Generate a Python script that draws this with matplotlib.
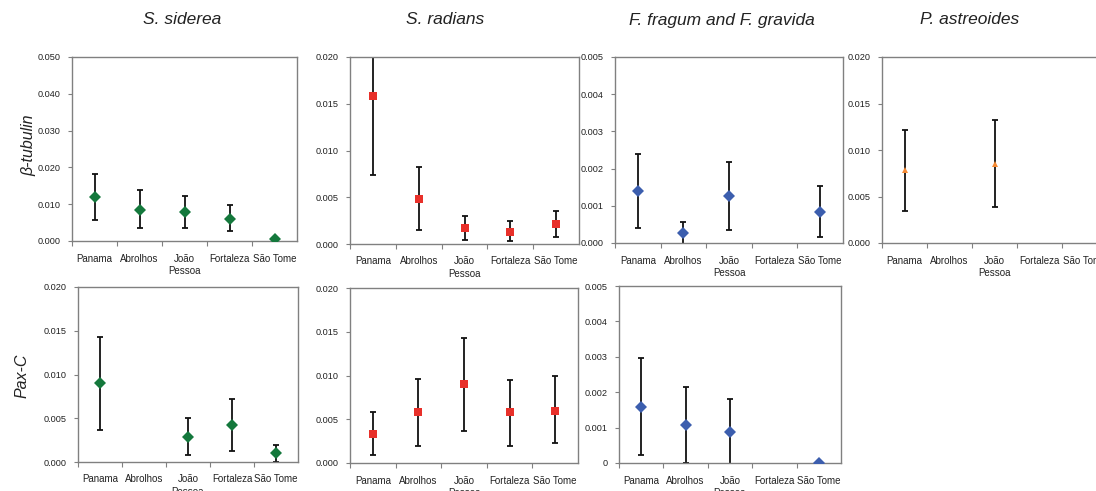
import numpy as np
import matplotlib
matplotlib.use("Agg")
import matplotlib.pyplot as plt
from matplotlib import font_manager

# pick a narrow Arial-like face if the box has one
_names = {f.name for f in font_manager.fontManager.ttflist}
FONT = "Liberation Sans Narrow" if "Liberation Sans Narrow" in _names else "Liberation Sans"
plt.rcParams["font.family"] = [FONT, "DejaVu Sans"]

sites = ["Panama", "Abrolhos", "João\nPessoa", "Fortaleza", "São Tome"]
species = ["S. siderea", "S. radians", "F. fragum and F. gravida", "P. astreoides"]
genes = ["β-tubulin", "Pax-C"]

# beta-tubulin: mean, lower and upper end of the error bar
sid_beta = [0.0120, 0.0085, 0.0078, 0.0061, 0.0005]
sid_beta_lo = [0.0056, 0.0035, 0.0036, 0.0027, np.nan]
sid_beta_hi = [0.0182, 0.0138, 0.0123, 0.0099, np.nan]

rad_beta = [0.0158, 0.0048, 0.0017, 0.0013, 0.0021]
rad_beta_lo = [0.0074, 0.0015, 0.0004, 0.0003, 0.0007]
rad_beta_hi = [0.0242, 0.0082, 0.0030, 0.0025, 0.0035]

fra_beta = [0.00140, 0.00026, 0.00127, np.nan, 0.00084]
fra_beta_lo = [0.00041, -0.00008, 0.00035, np.nan, 0.00015]
fra_beta_hi = [0.00240, 0.00057, 0.00218, np.nan, 0.00154]

ast_beta = [0.0078, np.nan, 0.0085, np.nan, np.nan]
ast_beta_lo = [0.0034, np.nan, 0.0039, np.nan, np.nan]
ast_beta_hi = [0.0122, np.nan, 0.0132, np.nan, np.nan]

# Pax-C
sid_pax = [0.0090, np.nan, 0.0029, 0.0042, 0.0010]
sid_pax_lo = [0.0037, np.nan, 0.0008, 0.0013, 0.0000]
sid_pax_hi = [0.0143, np.nan, 0.0050, 0.0072, 0.0020]

rad_pax = [0.0033, 0.0058, 0.0090, 0.0058, 0.0060]
rad_pax_lo = [0.0009, 0.0020, 0.0037, 0.0020, 0.0023]
rad_pax_hi = [0.0058, 0.0096, 0.0143, 0.0095, 0.0099]

fra_pax = [0.00159, 0.00108, 0.00087, np.nan, 0.00000]
fra_pax_lo = [0.00024, 0.00001, -0.00004, np.nan, np.nan]
fra_pax_hi = [0.00296, 0.00216, 0.00180, np.nan, np.nan]

# y tick labels for each panel
yticks_02 = ["0.000", "0.005", "0.010", "0.015", "0.020"]
yticks_05 = ["0.000", "0.010", "0.020", "0.030", "0.040", "0.050"]
yticks_005 = ["0.000", "0.001", "0.002", "0.003", "0.004", "0.005"]
yticks_005b = ["0", "0.001", "0.002", "0.003", "0.004", "0.005"]

W, H = 1096, 491
fig = plt.figure(figsize=(W / 100, H / 100), dpi=100)
fig.patch.set_facecolor("white")

# (left, right, top, bottom) in pixels, data, colour, marker, marker size, y-range, tick labels
panels = [
    ((72, 297, 57, 241), sid_beta, sid_beta_lo, sid_beta_hi, "#14783c", "D", 6.5, 0.05, yticks_05),
    ((350, 579, 57, 244), rad_beta, rad_beta_lo, rad_beta_hi, "#e8302a", "s", 5.5, 0.02, yticks_02),
    ((615, 843, 57, 243), fra_beta, fra_beta_lo, fra_beta_hi, "#3c5eae", "D", 6.5, 0.005, yticks_005),
    ((882, 1107, 57, 243), ast_beta, ast_beta_lo, ast_beta_hi, "#f58a34", "^", 5, 0.02, yticks_02),
    ((78, 298, 287, 462), sid_pax, sid_pax_lo, sid_pax_hi, "#14783c", "D", 6.5, 0.02, yticks_02),
    ((350, 578, 288, 463), rad_pax, rad_pax_lo, rad_pax_hi, "#e8302a", "s", 5.5, 0.02, yticks_02),
    ((619, 841, 286, 463), fra_pax, fra_pax_lo, fra_pax_hi, "#3c5eae", "D", 6.5, 0.005, yticks_005b),
]

x = np.arange(len(sites))
for (l, r, t, b), mean, lo, hi, col, mk, ms, ymax, ylabels in panels:
    ax = fig.add_axes([l / W, 1 - b / H, (r - l) / W, (b - t) / H])
    mean = np.array(mean)
    err = np.vstack([mean - np.array(lo), np.array(hi) - mean])
    ax.errorbar(x, mean, yerr=err, fmt="none", ecolor="#111111", elinewidth=1.3,
                capsize=2.4, capthick=1.3, zorder=2)
    ax.plot(x, mean, linestyle="none", marker=mk, markersize=ms, color=col,
            markeredgewidth=0, zorder=3)
    ax.set_xlim(-0.5, len(sites) - 0.5)
    ax.set_ylim(0, ymax)
    ax.set_yticks(np.linspace(0, ymax, len(ylabels)))
    ax.set_yticklabels(ylabels)
    # ticks between categories, labels at category centres
    ax.set_xticks(np.arange(-0.5, len(sites) - 0.5, 1.0))
    ax.set_xticklabels([])
    ax.set_xticks(x, minor=True)
    ax.set_xticklabels(sites, minor=True, linespacing=1.3)
    ax.tick_params(axis="x", which="major", length=3.5, width=0.8, color="#808080", direction="out")
    ax.tick_params(axis="x", which="minor", length=0, pad=9, labelsize=7, labelcolor="#222222")
    ax.tick_params(axis="y", length=3, width=0.8, color="#808080", direction="out",
                   pad=5, labelsize=6.6, labelcolor="#222222")
    for sp in ax.spines.values():
        sp.set_color("#808080")
        sp.set_linewidth(1.0)

title_x = [182, 445, 722, 970]
for name, tx in zip(species, title_x):
    fig.text(tx / W, 1 - 20 / H, name, ha="center", va="center", style="italic",
             fontsize=12.5, color="#222222")

fig.text(29 / W, 1 - 145 / H, genes[0], rotation=90, ha="center", va="center",
         style="italic", fontsize=11.5, color="#222222")
fig.text(22 / W, 1 - 376 / H, genes[1], rotation=90, ha="center", va="center",
         style="italic", fontsize=11.5, color="#222222")

fig.savefig("out.png", dpi=100)
